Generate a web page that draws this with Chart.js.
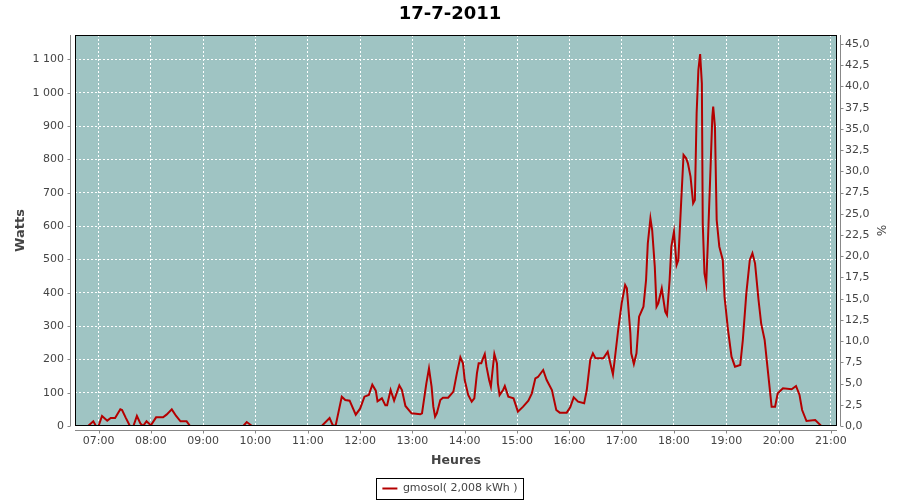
<!DOCTYPE html>
<html>
<head>
<meta charset="utf-8">
<script src="https://cdn.jsdelivr.net/npm/chart.js@4/dist/chart.umd.min.js"></script>
<style>
html,body{margin:0;padding:0;background:#ffffff;}
#wrap{width:900px;height:500px;}
</style>
</head>
<body>
<div id="wrap"><canvas id="c" width="900" height="500"></canvas></div>
<script>
const chartTitle = '17-7-2011';
const seriesLabel = 'gmosol( 2,008 kWh )';
const xTitle = 'Heures';
const yLeftTitle = 'Watts';
const yRightTitle = '%';

const times = [
  '06:48','06:54','06:57','07:00','07:04','07:10','07:14','07:19','07:25','07:27',
  '07:31','07:36','07:40','07:44','07:48','07:51','07:55','08:00','08:06','08:14',
  '08:18','08:24','08:29','08:34','08:41','08:45','09:46','09:50','09:56','11:16',
  '11:25','11:29','11:32','11:39','11:43','11:48','11:55','12:00','12:05','12:10',
  '12:14','12:18','12:20','12:25','12:29','12:31','12:35','12:39','12:45','12:48',
  '12:52','12:59','13:09','13:11','13:16','13:19','13:22','13:24','13:26','13:28',
  '13:32','13:35','13:41','13:47','13:51','13:55','13:58','14:00','14:04','14:08',
  '14:11','14:14','14:16','14:19','14:21','14:23','14:25','14:28','14:30','14:32',
  '14:34','14:37','14:38','14:40','14:44','14:46','14:50','14:56','15:01','15:07',
  '15:13','15:17','15:21','15:24','15:30','15:34','15:40','15:45','15:49','15:57',
  '16:01','16:05','16:10','16:17','16:20','16:24','16:27','16:30','16:39','16:44',
  '16:47','16:50','16:52','16:56','17:00','17:04','17:06','17:10','17:11','17:14',
  '17:17','17:20','17:25','17:28','17:30','17:33','17:35','17:38','17:40','17:42',
  '17:46','17:50','17:52','17:55','17:57','18:00','18:03','18:05','18:08','18:11',
  '18:14','18:16','18:19','18:22','18:24','18:26','18:28','18:30','18:32','18:33',
  '18:35','18:37','18:39','18:42','18:44','18:45','18:47','18:49','18:52','18:56',
  '18:58','19:02','19:06','19:10','19:16','19:19','19:23','19:27','19:30','19:33',
  '19:37','19:40','19:44','19:48','19:52','19:56','19:59','20:05','20:15','20:20',
  '20:24','20:27','20:32','20:42','20:49'
];
const watts = [
  0,14,0,0,30,16,24,24,50,48,
  26,0,0,30,8,0,14,2,26,26,
  34,50,30,14,14,0,0,12,0,0,
  24,0,2,88,78,76,34,52,88,93,
  124,106,74,83,62,62,108,76,122,108,
  60,38,35,38,128,173,118,58,28,38,
  78,85,85,103,158,206,188,138,93,73,
  83,158,188,188,203,216,178,138,118,168,
  216,188,128,93,108,120,88,83,43,58,
  76,98,143,147,168,138,108,48,40,40,
  56,86,73,68,108,198,218,203,203,223,
  188,155,198,288,368,423,413,278,218,186,
  218,328,358,438,548,623,588,478,358,368,
  413,343,333,438,538,583,483,498,658,813,
  803,788,748,668,678,938,1068,1116,1028,608,
  458,428,558,778,928,958,898,618,538,498,
  388,288,208,178,183,258,398,498,518,488,
  378,308,258,158,58,58,98,113,110,120,
  93,48,15,18,0
];
const hourTicks = ['07:00','08:00','09:00','10:00','11:00','12:00','13:00','14:00',
  '15:00','16:00','17:00','18:00','19:00','20:00','21:00'];
const wattTicks = [0,100,200,300,400,500,600,700,800,900,1000,1100];
const pctTicks = [0,2.5,5,7.5,10,12.5,15,17.5,20,22.5,25,27.5,30,32.5,35,37.5,40,42.5,45];
const xRange = ['06:33','21:07'];
const wattMax = 1173;
const pctMax = 46.06;

const toMin = s => { const p = s.split(':'); return (+p[0]) * 60 + (+p[1]); };
const fmtMin = m => { const h = Math.floor(m / 60), mm = Math.round(m % 60); return String(h).padStart(2,'0') + ':' + String(mm).padStart(2,'0'); };
const points = times.map((t, i) => ({x: toMin(t), y: watts[i]}));

const FONT = "'DejaVu Sans', sans-serif";
const TXT = '#444444';
const PLOT_BG = 'rgb(159,196,195)';
const LINE = '#b40000';
const AXIS = '#888888';

const decor = {
  id: 'decor',
  beforeDraw(chart) {
    const {ctx, chartArea: a} = chart;
    ctx.save();
    ctx.fillStyle = '#ffffff';
    ctx.fillRect(0, 0, chart.width, chart.height);
    ctx.fillStyle = PLOT_BG;
    ctx.fillRect(a.left, a.top, a.right - a.left, a.bottom - a.top);
    ctx.restore();
  },
  afterDraw(chart) {
    const {ctx, chartArea: a, scales} = chart;
    ctx.save();
    ctx.strokeStyle = '#000000';
    ctx.lineWidth = 1;
    ctx.setLineDash([]);
    ctx.strokeRect(a.left + 0.5, a.top + 0.5, a.right - a.left - 1, a.bottom - a.top - 1);
    ctx.strokeStyle = AXIS;
    ctx.beginPath();
    const lx = a.left - 4.5;
    ctx.moveTo(lx, a.top); ctx.lineTo(lx, a.bottom);
    scales.y.ticks.forEach(t => { const y = Math.round(scales.y.getPixelForValue(t.value)) + 0.5; ctx.moveTo(lx - 3, y); ctx.lineTo(lx, y); });
    const rx = a.right + 3.5;
    ctx.moveTo(rx, a.top); ctx.lineTo(rx, a.bottom);
    scales.y2.ticks.forEach(t => { const y = Math.round(scales.y2.getPixelForValue(t.value)) + 0.5; ctx.moveTo(rx, y); ctx.lineTo(rx + 3, y); });
    const by = a.bottom + 4.5;
    ctx.moveTo(a.left, by); ctx.lineTo(a.right, by);
    scales.x.ticks.forEach(t => { const x = Math.round(scales.x.getPixelForValue(t.value)) + 0.5; ctx.moveTo(x, by); ctx.lineTo(x, by + 3); });
    ctx.stroke();
    const lg = chart.legend;
    if (lg && lg.legendHitBoxes && lg.legendHitBoxes.length) {
      const hb = lg.legendHitBoxes[0];
      const cy = hb.top + hb.height / 2;
      ctx.strokeStyle = '#000000';
      ctx.strokeRect(Math.round(hb.left - 6) + 0.5, Math.round(cy - 11) + 0.5, Math.round(hb.width + 12), 21);
    }
    ctx.restore();
  }
};

new Chart(document.getElementById('c'), {
  type: 'line',
  data: {
    datasets: [{
      label: seriesLabel,
      data: points,
      borderColor: LINE,
      backgroundColor: LINE,
      borderWidth: 2,
      pointRadius: 0,
      tension: 0,
      fill: false,
      yAxisID: 'y'
    }]
  },
  plugins: [decor],
  options: {
    responsive: false,
    animation: false,
    devicePixelRatio: 1,
    layout: {padding: {top: 0, left: 0, right: 0, bottom: -4}},
    plugins: {
      title: {
        display: true,
        text: chartTitle,
        color: '#000000',
        font: {family: FONT, size: 18, weight: 'bold'},
        padding: {top: 4, bottom: 9.4}
      },
      legend: {
        display: true,
        position: 'bottom',
        labels: {
          usePointStyle: true,
          pointStyle: 'line',
          pointStyleWidth: 15,
          color: TXT,
          font: {family: FONT, size: 11},
          padding: 6
        }
      },
      tooltip: {enabled: false}
    },
    scales: {
      x: {
        type: 'linear',
        min: toMin(xRange[0]),
        max: toMin(xRange[1]),
        afterBuildTicks: s => { s.ticks = hourTicks.map(h => ({value: toMin(h)})); },
        afterFit: s => { s.height = 51; },
        grid: {color: '#ffffff', lineWidth: 1, drawTicks: false},
        border: {display: false, dash: [2, 2]},
        ticks: {color: TXT, font: {family: FONT, size: 11}, padding: 9, maxRotation: 0, autoSkip: false,
          callback: v => fmtMin(v)},
        title: {display: true, text: xTitle, color: TXT, font: {family: FONT, size: 12.5, weight: 'bold'}, padding: {top: 0, bottom: 9}}
      },
      y: {
        type: 'linear',
        position: 'left',
        min: 0,
        max: wattMax,
        afterBuildTicks: s => { s.ticks = wattTicks.map(v => ({value: v})); },
        afterFit: s => { s.width = 75; },
        grid: {color: '#ffffff', lineWidth: 1, drawTicks: false},
        border: {display: false, dash: [2, 2]},
        ticks: {color: TXT, font: {family: FONT, size: 11}, padding: 11, autoSkip: false,
          callback: v => String(v).replace(/\B(?=(\d{3})+(?!\d))/g, ' ')},
        title: {display: true, text: yLeftTitle, color: TXT, font: {family: FONT, size: 13, weight: 'bold'}, padding: {top: 13, bottom: 0}}
      },
      y2: {
        type: 'linear',
        position: 'right',
        min: 0,
        max: pctMax,
        afterBuildTicks: s => { s.ticks = pctTicks.map(v => ({value: v})); },
        afterFit: s => { s.width = 63; },
        grid: {display: false, drawTicks: false},
        border: {display: false},
        ticks: {color: TXT, font: {family: FONT, size: 11}, padding: 8, autoSkip: false,
          callback: v => Number(v).toFixed(1).replace('.', ',')},
        title: {display: true, text: yRightTitle, color: TXT, font: {family: FONT, size: 12}, padding: {top: 13, bottom: 0}}
      }
    }
  }
});
</script>
</body>
</html>
